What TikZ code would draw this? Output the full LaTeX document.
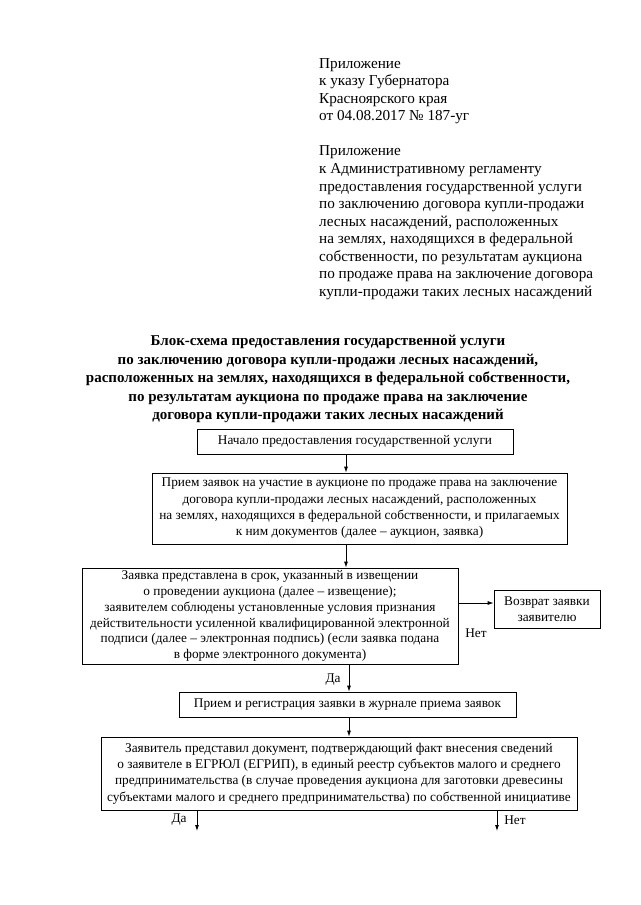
\documentclass[tikz,border=0pt]{standalone}
\usepackage{fontspec}
\setmainfont{Liberation Serif}
\usetikzlibrary{arrows.meta}
\tikzset{
  blok/.style = {draw, line width = 0.8pt, inner sep = 0pt, align = center, font = \fontsize{13.3}{16.3}\selectfont},
  arr/.style = {-{Latex[length = 6pt, width = 4pt]}, line width = 0.8pt},
  lbl/.style = {inner sep = 0pt, font = \fontsize{13.3}{16}\selectfont}
}
\begin{document}
\begin{tikzpicture}[x = 1pt, y = -1pt]
  \useasboundingbox (0, 0) rectangle (640, 905);
  \node [anchor = north west, align = left, inner sep = 0pt, font = \fontsize{15.2}{17.55}\selectfont] (pril) at (319, 58)
    {Приложение\\ к указу Губернатора\\ Красноярского края\\ от 04.08.2017 № 187-уг\\[17.55pt]
     Приложение\\ к Административному регламенту\\ предоставления государственной услуги\\
     по заключению договора купли-продажи\\ лесных насаждений, расположенных\\
     на землях, находящихся в федеральной\\ собственности, по результатам аукциона\\
     по продаже права на заключение договора\\ купли-продажи таких лесных насаждений};
  \node [anchor = north, align = center, inner sep = 0pt, font = \bfseries\fontsize{15}{18.6}\selectfont] (title) at (328, 335)
    {Блок-схема предоставления государственной услуги\\
     по заключению договора купли-продажи лесных насаждений,\\
     расположенных на землях, находящихся в федеральной собственности,\\
     по результатам аукциона по продаже права на заключение\\
     договора купли-продажи таких лесных насаждений};
  \node [blok, minimum width = 316pt, minimum height = 25pt] (start) at (355, 441.5)
    {Начало предоставления государственной услуги};
  \node [blok, minimum width = 415pt, minimum height = 71pt] (accept) at (359.5, 508.5)
    {Прием заявок на участие в аукционе по продаже права на заключение\\
     договора купли-продажи лесных насаждений, расположенных\\
     на землях, находящихся в федеральной собственности, и прилагаемых\\
     к ним документов (далее -- аукцион, заявка)};
  \node [blok, minimum width = 376pt, minimum height = 96pt, font = \fontsize{13.3}{15.8}\selectfont] (check) at (270, 616)
    {Заявка представлена в срок, указанный в извещении\\
     о проведении аукциона (далее -- извещение);\\
     заявителем соблюдены установленные условия признания\\
     действительности усиленной квалифицированной электронной\\
     подписи (далее -- электронная подпись) (если заявка подана\\
     в форме электронного документа)};
  \node [blok, minimum width = 106pt, minimum height = 38pt] (ret) at (547, 609)
    {Возврат заявки\\ заявителю};
  \node [blok, minimum width = 337pt, minimum height = 25pt] (reg) at (347.5, 704.5)
    {Прием и регистрация заявки в журнале приема заявок};
  \node [blok, minimum width = 476pt, minimum height = 73pt] (egrul) at (339, 773.5)
    {Заявитель представил документ, подтверждающий факт внесения сведений\\
     о заявителе в ЕГРЮЛ (ЕГРИП), в единый реестр субъектов малого и среднего\\
     предпринимательства (в случае проведения аукциона для заготовки древесины\\
     субъектами малого и среднего предпринимательства) по собственной инициативе};
  % arrows
  \coordinate (axis) at (346, 0);
  \coordinate (axisb) at (349, 0);
  \coordinate (side) at (0, 603);
  \draw [arr] (start.south -| axis) -- (accept.north -| axis);
  \draw [arr] (accept.south -| axis) -- (check.north -| axis);
  \draw [arr] (check.south -| axisb) -- (reg.north -| axisb);
  \draw [arr] (reg.south -| axisb) -- (egrul.north -| axisb);
  \draw [arr] (check.east |- side) -- (ret.west |- side);
  \coordinate (yesend) at (197, 831);
  \coordinate (noend) at (497, 831);
  \draw [arr] (egrul.south -| yesend) -- (yesend);
  \draw [arr] (egrul.south -| noend) -- (noend);
  % labels
  \node [lbl] (no1) at (476, 633) {Нет};
  \node [lbl] (yes1) at (333, 680) {Да};
  \node [lbl] (yes2) at (179, 820) {Да};
  \node [lbl] (no2) at (515, 820) {Нет};
\end{tikzpicture}
\end{document}
